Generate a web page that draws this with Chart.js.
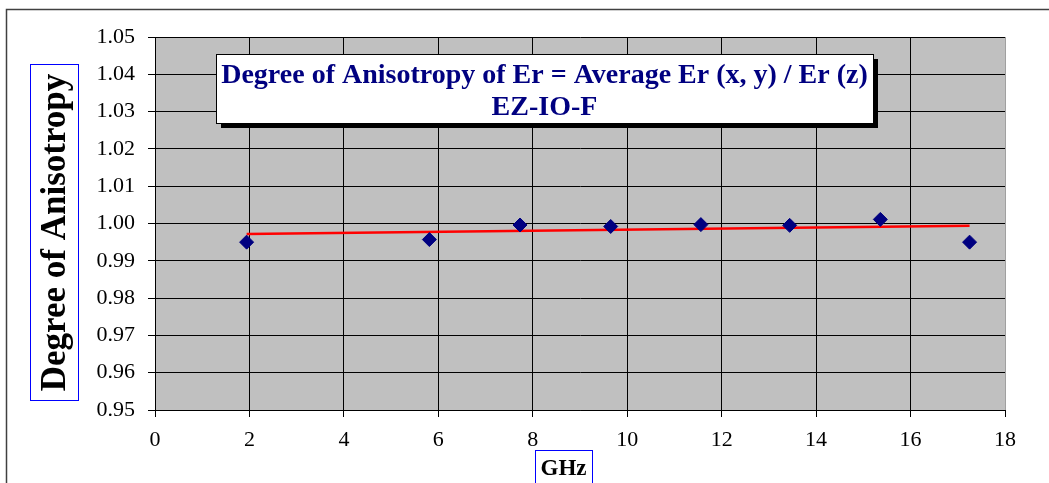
<!DOCTYPE html>
<html>
<head>
<meta charset="utf-8">
<script src="https://cdn.jsdelivr.net/npm/chart.js@4/dist/chart.umd.min.js"></script>
<style>
  html, body { margin: 0; padding: 0; background: #fff; }
  #wrap { width: 1049px; height: 483px; }
</style>
</head>
<body>
<div id="wrap"><canvas id="aniChart" width="1049" height="483"></canvas></div>
<script>
// measured points (GHz vs degree of anisotropy)
const freqGHz = [1.94, 5.81, 7.73, 9.65, 11.56, 13.44, 15.36, 17.25];
const anisotropy = [0.9950, 0.9957, 0.9996, 0.9992, 0.9997, 0.9995, 1.0011, 0.9950];

// linear trend line end points
const trendX = [1.94, 17.25];
const trendY = [0.9972, 0.9994];

const titleLines = ['Degree of Anisotropy of Er = Average Er (x, y) / Er (z)', 'EZ-IO-F'];
const yTitle = 'Degree of Anisotropy';
const xTitle = 'GHz';

const serif = "'Liberation Serif', 'Times New Roman', serif";

const decor = {
  id: 'decor',
  beforeDraw(chart) {
    const { ctx, chartArea: a } = chart;
    ctx.save();
    ctx.fillStyle = '#fff';
    ctx.fillRect(0, 0, chart.width, chart.height);
    // outer frame
    ctx.strokeStyle = '#404040';
    ctx.lineWidth = 1.5;
    ctx.beginPath();
    ctx.moveTo(6.5, 483);
    ctx.lineTo(6.5, 9.5);
    ctx.lineTo(1049, 9.5);
    ctx.stroke();
    // plot area
    ctx.fillStyle = '#c0c0c0';
    ctx.fillRect(a.left, a.top, a.right - a.left, a.bottom - a.top);
    ctx.restore();
  },
  afterDraw(chart) {
    const { ctx } = chart;
    ctx.save();
    // title box with shadow
    const bx = 216, by = 54, bw = 657, bh = 69;
    ctx.fillStyle = '#000';
    ctx.fillRect(bx + 5, by + 5, bw, bh);
    ctx.fillStyle = '#fff';
    ctx.fillRect(bx, by, bw, bh);
    ctx.strokeStyle = '#000';
    ctx.lineWidth = 1;
    ctx.strokeRect(bx + 0.5, by + 0.5, bw, bh);
    ctx.fillStyle = '#000080';
    ctx.font = 'bold 28px ' + serif;
    ctx.textAlign = 'center';
    ctx.textBaseline = 'alphabetic';
    ctx.fillText(titleLines[0], bx + bw / 2, 83);
    ctx.fillText(titleLines[1], bx + bw / 2, 115);

    // y axis title
    ctx.strokeStyle = '#0000ff';
    ctx.strokeRect(30.5, 64.5, 48, 336);
    ctx.save();
    ctx.translate(56, 232.5);
    ctx.rotate(-Math.PI / 2);
    ctx.fillStyle = '#000';
    ctx.font = 'bold 35px ' + serif;
    ctx.textBaseline = 'middle';
    ctx.fillText(yTitle, 0, 0);
    ctx.restore();

    // x axis title
    ctx.strokeRect(535.5, 450.5, 57, 40);
    ctx.fillStyle = '#000';
    ctx.font = 'bold 23px ' + serif;
    ctx.textAlign = 'center';
    ctx.fillText(xTitle, 563.5, 475);
    ctx.restore();
  }
};

const ctx = document.getElementById('aniChart').getContext('2d');
new Chart(ctx, {
  type: 'scatter',
  data: {
    datasets: [{
      label: 'Anisotropy',
      data: freqGHz.map((x, i) => ({ x: x, y: anisotropy[i] })),
      pointStyle: 'rectRot',
      pointRadius: 7,
      pointHoverRadius: 7,
      backgroundColor: '#000080',
      borderColor: '#000080',
      borderWidth: 1
    }, {
      label: 'Trend',
      data: trendX.map((x, i) => ({ x: x, y: trendY[i] })),
      showLine: true,
      borderColor: '#ff0000',
      borderWidth: 2.5,
      pointRadius: 0,
      pointHoverRadius: 0
    }]
  },
  options: {
    responsive: false,
    animation: false,
    layout: { padding: { left: 0, top: 37, right: 44, bottom: 0 } },
    plugins: {
      legend: { display: false },
      tooltip: { enabled: false }
    },
    scales: {
      x: {
        type: 'linear',
        min: 0,
        max: 18,
        ticks: {
          stepSize: 2,
          padding: 10,
          color: '#000',
          font: { family: serif, size: 22 }
        },
        grid: {
          color: (c) => (c.tick && c.tick.value === 18 ? '#a0a0a0' : '#000'),
          lineWidth: 1,
          tickLength: 7,
          tickColor: '#000'
        },
        border: { display: true, color: '#000', width: 1 },
        afterFit: (scale) => { scale.height = 73; }
      },
      y: {
        min: 0.95,
        max: 1.05,
        ticks: {
          stepSize: 0.01,
          padding: 13,
          color: '#000',
          font: { family: serif, size: 22 },
          callback: (v) => v.toFixed(2)
        },
        grid: {
          color: '#000',
          lineWidth: 1,
          tickLength: 7,
          tickColor: '#000'
        },
        border: { display: true, color: '#000', width: 1 },
        afterFit: (scale) => { scale.width = 155; }
      }
    }
  },
  plugins: [decor]
});
</script>
</body>
</html>
